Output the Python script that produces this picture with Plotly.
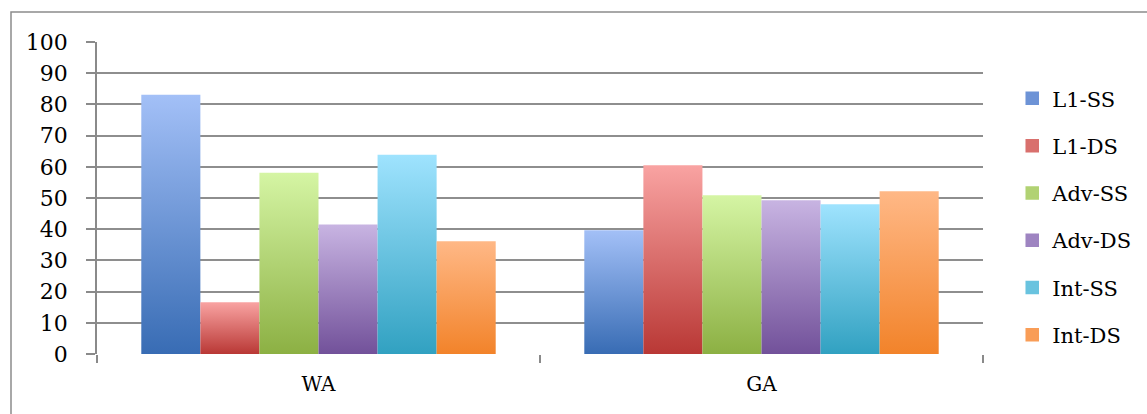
import plotly.graph_objects as go

categories = ["WA", "GA"]
series_names = ["L1-SS", "L1-DS", "Adv-SS", "Adv-DS", "Int-SS", "Int-DS"]
values = {
    "L1-SS": [83.1, 39.7],
    "L1-DS": [16.6, 60.5],
    "Adv-SS": [58.1, 50.9],
    "Adv-DS": [41.5, 49.3],
    "Int-SS": [63.9, 48.0],
    "Int-DS": [36.1, 52.2],
}
y_ticks = list(range(0, 101, 10))

# bottom (dark) -> top (light) colour for each series gradient
gradients = {
    "L1-SS": ("#386cb4", "#a3c0f7"),
    "L1-DS": ("#b93835", "#f9a3a2"),
    "Adv-SS": ("#8cb043", "#d5f5a4"),
    "Adv-DS": ("#72519a", "#c8b4e2"),
    "Int-SS": ("#31a1c1", "#9fe3fe"),
    "Int-DS": ("#f2832a", "#ffb886"),
}
legend_colors = {
    "L1-SS": "#6d93d6",
    "L1-DS": "#d9706d",
    "Adv-SS": "#b1d273",
    "Adv-DS": "#9e84c1",
    "Int-SS": "#69c3df",
    "Int-DS": "#f99d57",
}

W, H = 1147, 414
L, R, T, B = 97, 164, 42, 60
group_width = 0.8
bar_w = group_width / len(series_names)

fig = go.Figure()
for i, name in enumerate(series_names):
    dark, light = gradients[name]
    for j, v in enumerate(values[name]):
        left = j - group_width / 2 + i * bar_w
        fig.add_trace(go.Scatter(
            x=[left, left, left + bar_w, left + bar_w, left],
            y=[0, v, v, 0, 0],
            mode="none",
            fill="toself",
            fillcolor=dark,
            fillgradient=dict(type="vertical", colorscale=[[0, dark], [1, light]]),
            name=name,
            legendgroup=name,
            showlegend=False,
            hoverinfo="name+y",
        ))
    # legend swatch for the series
    fig.add_trace(go.Bar(
        x=[None], y=[None], name=name, legendgroup=name,
        marker=dict(color=legend_colors[name],
                    line=dict(color=legend_colors[name], width=1.5)),
    ))

fig.update_layout(
    width=W, height=H,
    margin=dict(l=L, r=R, t=T, b=B, autoexpand=False),
    paper_bgcolor="white",
    plot_bgcolor="white",
    font=dict(family="DejaVu Serif", size=20, color="black"),
    showlegend=True,
    legend=dict(
        x=1.033, xanchor="left", y=0.44, yanchor="middle",
        font=dict(size=21, family="DejaVu Serif"),
        tracegroupgap=17,
        bgcolor="rgba(0,0,0,0)",
    ),
    xaxis=dict(
        range=[-0.5, 1.5],
        tickvals=[0, 1],
        ticktext=categories,
        ticks="",
        ticklabelstandoff=16,
        showgrid=False,
        zeroline=False,
        showline=False,
        minor=dict(tickvals=[-0.5, 0.5, 1.5], ticks="outside", ticklen=8,
                   tickcolor="#8a8a8a", tickwidth=1.5, showgrid=False),
        fixedrange=True,
    ),
    yaxis=dict(
        range=[0, 100],
        tickvals=y_ticks,
        tickfont=dict(size=22),
        ticks="outside",
        ticklen=9,
        tickcolor="#8a8a8a",
        tickwidth=2,
        ticklabelstandoff=14,
        showgrid=True,
        gridcolor="#8e8e8e",
        gridwidth=2,
        zeroline=False,
        showline=True,
        linecolor="#8a8a8a",
        linewidth=1.5,
        fixedrange=True,
    ),
)

# outer chart border
pw, ph = W - L - R, H - T - B
fig.add_shape(
    type="rect", xref="paper", yref="paper", layer="below",
    x0=(11 - L) / pw, x1=(W + 20 - L) / pw,
    y0=(H - 430 - B) / ph, y1=(H - 12 - B) / ph,
    line=dict(color="#8c8c8c", width=1.5),
)

fig.write_html("out.html")
